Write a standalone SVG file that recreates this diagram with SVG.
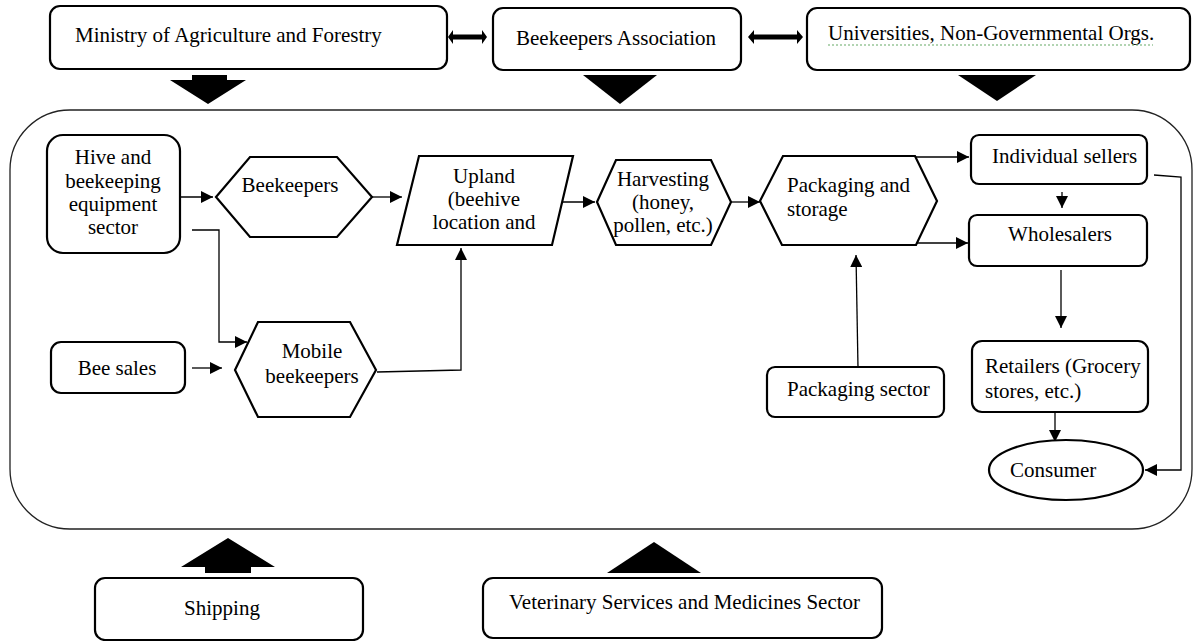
<svg xmlns="http://www.w3.org/2000/svg" width="1194" height="641" viewBox="0 0 1194 641">
<style>
.box{fill:#fff;stroke:#000;stroke-width:2.2}
.t{font-family:'Liberation Serif',serif;font-size:21px;fill:#000}
.c{text-anchor:middle}
.ln{fill:none;stroke:#000;stroke-width:1.3}
.blk{fill:#000;stroke:none}
</style>
<defs>
<marker id="ah" viewBox="0 0 10 10" refX="10" refY="5" markerWidth="12" markerHeight="12" markerUnits="userSpaceOnUse" orient="auto">
<path d="M0,0 L10,5 L0,10 z" fill="#000"/>
</marker>
</defs>
<rect x="0" y="0" width="1194" height="641" fill="#fff"/>
<g id="container"><rect x="10" y="110" width="1182" height="419" rx="60" ry="60" fill="none" stroke="#222" stroke-width="1.3"/></g>

<g id="connectors">
<path class="ln" d="M180,197 H213" marker-end="url(#ah)"/>
<path class="ln" d="M372,197 H402" marker-end="url(#ah)"/>
<path class="ln" d="M553,202 H595" marker-end="url(#ah)"/>
<path class="ln" d="M731,202 H760" marker-end="url(#ah)"/>
<path class="ln" d="M915,157 H969" marker-end="url(#ah)"/>
<path class="ln" d="M916,243 H968" marker-end="url(#ah)"/>
<path class="ln" d="M1062,192 V208" marker-end="url(#ah)"/>
<path class="ln" d="M1061,270 V328" marker-end="url(#ah)"/>
<path class="ln" d="M1055,412 V442" marker-end="url(#ah)"/>
<path class="ln" d="M1154,175 L1181,177 V470 H1145" marker-end="url(#ah)"/>
<path class="ln" d="M858,368 L856,255" marker-end="url(#ah)"/>
<path class="ln" d="M192,368 H222" marker-end="url(#ah)"/>
<path class="ln" d="M192,230 H219 V342 H247" marker-end="url(#ah)"/>
<path class="ln" d="M377,372 L461,370 V248" marker-end="url(#ah)"/>
<path class="blk" d="M448,37 L453,30 V34.5 H482 V30 L487,37 L482,44 V39.5 H453 V44 Z"/>
<path class="blk" d="M748,37 L754,30 V34.5 H797 V30 L803,37 L797,44 V39.5 H754 V44 Z"/>
<path class="blk" d="M192,75 H227 V80 H246 L208,104 L170,80 H192 Z"/>
<path class="blk" d="M583,75 H657 L620,104 Z"/>
<path class="blk" d="M958,75 H1036 L997,101 Z"/>
<path class="blk" d="M228,538 L275,567 H251 V573 H205 V567 H181 Z"/>
<path class="blk" d="M654,542 L701,573 H607 Z"/>
</g>

<g id="ministry"><rect class="box" x="50" y="6" width="397" height="63" rx="10"/><text class="t" x="75" y="42">Ministry of Agriculture and Forestry</text></g>
<g id="association"><rect class="box" x="493" y="8" width="248" height="62" rx="10"/><text class="t" x="516" y="45">Beekeepers Association</text></g>
<g id="universities"><rect class="box" x="807" y="8" width="383" height="62" rx="10"/><text class="t" x="828" y="40">Universities, Non-Governmental Orgs.</text><path d="M828,45 H1153" stroke="#6a6" stroke-width="1.2" stroke-dasharray="2,2" fill="none"/></g>

<g id="hive"><rect class="box" x="47" y="135" width="133" height="118" rx="16"/>
<text class="t c" x="113" y="164">Hive and</text><text class="t c" x="113" y="188">beekeeping</text><text class="t c" x="113" y="211">equipment</text><text class="t c" x="113" y="234">sector</text></g>
<g id="beekeepers"><path class="box" d="M216,197 L250,157 H337 L372,197 L337,237 H250 Z"/><text class="t c" x="290" y="192">Beekeepers</text></g>
<g id="upland"><path class="box" d="M419,156 H573 L552,245 H397 Z"/>
<text class="t c" x="484" y="183">Upland</text><text class="t c" x="484" y="206">(beehive</text><text class="t c" x="484" y="229">location and</text></g>
<g id="harvesting"><path class="box" d="M597,202 L616,160 H711 L731,202 L711,245 H616 Z"/>
<text class="t c" x="663" y="186">Harvesting</text><text class="t c" x="663" y="209">(honey,</text><text class="t c" x="663" y="232">pollen, etc.)</text></g>
<g id="packaging"><path class="box" d="M760,201 L783,156 H915 L937,201 L916,245 H782 Z"/>
<text class="t" x="787" y="192">Packaging and</text><text class="t" x="787" y="216">storage</text></g>
<g id="individual"><rect class="box" x="971" y="135" width="176" height="49" rx="8"/><text class="t" x="992" y="163">Individual sellers</text></g>
<g id="wholesalers"><rect class="box" x="969" y="215" width="178" height="51" rx="8"/><text class="t c" x="1060" y="241">Wholesalers</text></g>
<g id="retailers"><rect class="box" x="972" y="341" width="176" height="71" rx="10"/><text class="t" x="985" y="373">Retailers (Grocery</text><text class="t" x="985" y="398">stores, etc.)</text></g>
<g id="consumer"><ellipse class="box" cx="1066" cy="470" rx="77" ry="30"/><text class="t" x="1010" y="477">Consumer</text></g>
<g id="packsector"><rect class="box" x="767" y="367" width="177" height="50" rx="8"/><text class="t" x="787" y="396">Packaging sector</text></g>
<g id="beesales"><rect class="box" x="51" y="342" width="134" height="51" rx="10"/><text class="t c" x="117" y="375">Bee sales</text></g>
<g id="mobile"><path class="box" d="M235,370 L258,322 H350 L376,370 L350,417 H258 Z"/>
<text class="t c" x="312" y="358">Mobile</text><text class="t c" x="312" y="383">beekeepers</text></g>
<g id="shipping"><rect class="box" x="95" y="578" width="268" height="62" rx="10"/><text class="t c" x="222" y="615">Shipping</text></g>
<g id="veterinary"><rect class="box" x="483" y="578" width="399" height="60" rx="10"/><text class="t" x="509" y="609">Veterinary Services and Medicines Sector</text></g>
</svg>
